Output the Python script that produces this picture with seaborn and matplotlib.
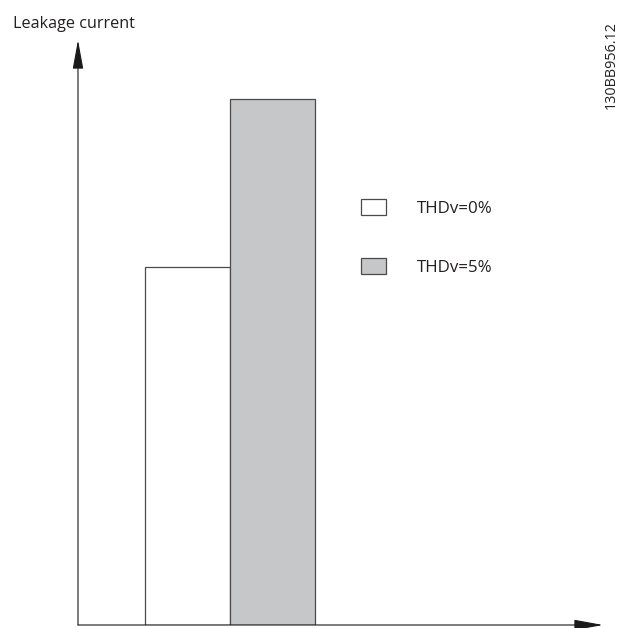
import matplotlib
matplotlib.use("Agg")
import matplotlib.pyplot as plt
import seaborn as sns
import pandas as pd

# ---- data ----
categories = ["THDv=0%", "THDv=5%"]
values = [61.2, 89.9]
bar_colors = ["#ffffff", "#c6c7c9"]
y_label = "Leakage current"
code_label = "130BB956.12"

sns.set_theme(style="white")
plt.rcParams['font.family'] = ['Open Sans', 'DejaVu Sans']

W, H = 618, 628
fig = plt.figure(figsize=(W / 100, H / 100), dpi=100)
ax_left, ax_right, ax_top, ax_bottom = 78, 603, 40, 625
ax = fig.add_axes([ax_left / W, 1 - ax_bottom / H,
                   (ax_right - ax_left) / W, (ax_bottom - ax_top) / H])

df = pd.DataFrame({"cond": categories, "val": values})
sns.barplot(data=df, x="cond", y="val", hue="cond", palette=bar_colors,
            width=1, dodge=False, edgecolor="#4a4a4a", linewidth=0.9,
            legend=False, ax=ax)

ax.set_xlim(-0.5 - 67 / 85, 1.5 + 288 / 85)
ax.set_ylim(0, 100)
ax.set_xticks([])
ax.set_yticks([])
ax.set_xlabel("")
ax.set_ylabel("")
for s in ax.spines.values():
    s.set_visible(False)

arrow_kw = dict(arrowstyle="-|>,head_length=1.8,head_width=0.33",
                mutation_scale=10, color="#1a1a1a", lw=0.8,
                shrinkA=0, shrinkB=0)
ax.annotate("", xy=(0, 1), xytext=(0, 0), xycoords="axes fraction",
            arrowprops=arrow_kw, annotation_clip=False)
ax.annotate("", xy=(1, 0), xytext=(0, 0), xycoords="axes fraction",
            arrowprops=arrow_kw, annotation_clip=False)

fs_leg = 12.2
fs_px = fs_leg * 100 / 72
handles = ax.patches[:2]
ax.legend(handles, categories, loc="upper left",
          bbox_to_anchor=(361 / W, 1 - 199 / H), bbox_transform=fig.transFigure,
          frameon=False, borderpad=0, borderaxespad=0,
          handlelength=25 / fs_px, handleheight=18 / fs_px,
          handletextpad=31 / fs_px, labelspacing=2.45, fontsize=fs_leg,
          labelcolor="#231f20")

fig.text(13 / W, 1 - 24 / H, y_label, fontsize=11.6, color="#231f20",
         ha="left", va="center")
fig.text(611 / W, 1 - 65 / H, code_label, fontsize=10.4, color="#231f20",
         rotation=90, ha="center", va="center")

fig.savefig("out.png", dpi=100)
